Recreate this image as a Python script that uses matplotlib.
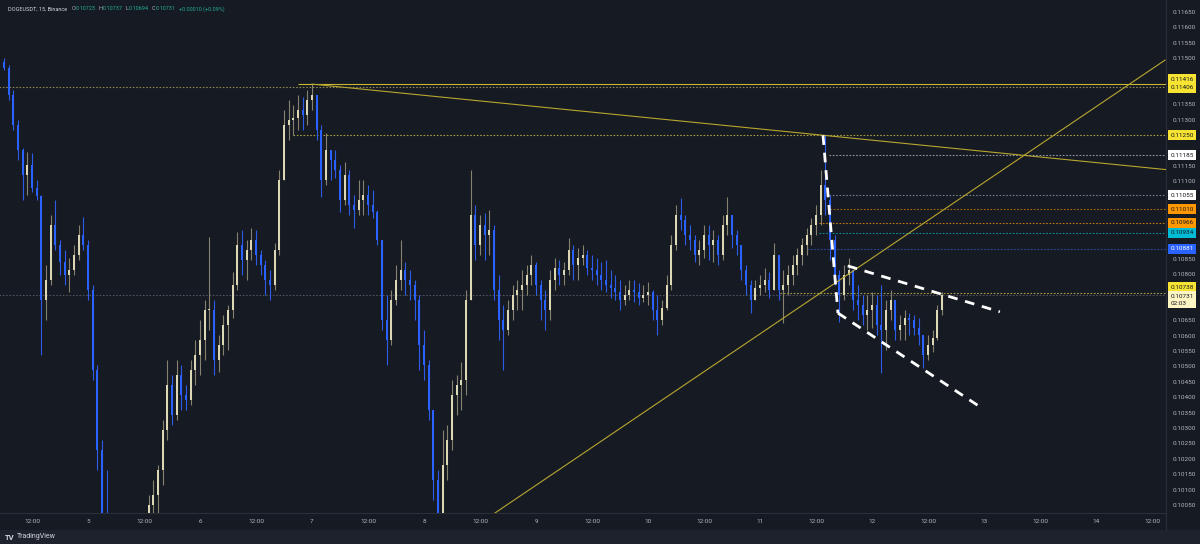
import numpy as np
import matplotlib.pyplot as plt
from matplotlib.patches import Rectangle
from matplotlib.lines import Line2D

plt.rcParams['font.family'] = ['Roboto', 'DejaVu Sans']

# DOGEUSDT, hourly candles; hour 0 = day 4, 00:00
hours = list(range(6, 208))
first_open = 0.11488
highs = [
    0.11501, 0.11478, 0.11397, 0.11300, 0.11209, 0.11196, 0.11193, 0.11105, 0.11056, 0.10829,
    0.10991, 0.11040, 0.10910, 0.10878, 0.10852, 0.10894, 0.10959, 0.10985, 0.10910, 0.10764,
    0.10505, 0.10261, 0.10164, 0.10002, 0.09937, 0.09904, 0.09872, 0.09921, 0.09969, 0.10002,
    0.10008, 0.10083, 0.10131, 0.10180, 0.10326, 0.10521, 0.10472, 0.10521, 0.10505, 0.10440,
    0.10521, 0.10586, 0.10651, 0.10715, 0.10920, 0.10715, 0.10602, 0.10667, 0.10699, 0.10806,
    0.10936, 0.10943, 0.10910, 0.10949, 0.10943, 0.10878, 0.10845, 0.10813, 0.10900, 0.11137,
    0.11332, 0.11365, 0.11348, 0.11381, 0.11374, 0.11397, 0.11416, 0.11381, 0.11283, 0.11257,
    0.11202, 0.11202, 0.11154, 0.11163, 0.11137, 0.11056, 0.11105, 0.11105, 0.11089, 0.11072,
    0.11008, 0.10910, 0.10732, 0.10748, 0.10829, 0.10910, 0.10839, 0.10813, 0.10780, 0.10732,
    0.10618, 0.10521, 0.10358, 0.10164, 0.10294, 0.10310, 0.10456, 0.10472, 0.10514, 0.10748,
    0.11137, 0.11024, 0.10991, 0.10998, 0.11008, 0.10959, 0.10797, 0.10699, 0.10715, 0.10764,
    0.10780, 0.10813, 0.10829, 0.10862, 0.10839, 0.10780, 0.10748, 0.10813, 0.10852, 0.10845,
    0.10839, 0.10917, 0.10894, 0.10884, 0.10894, 0.10878, 0.10862, 0.10852, 0.10839, 0.10845,
    0.10813, 0.10797, 0.10780, 0.10764, 0.10780, 0.10780, 0.10771, 0.10764, 0.10774, 0.10748,
    0.10732, 0.10715, 0.10797, 0.10926, 0.11024, 0.11046, 0.10991, 0.10959, 0.10926, 0.10910,
    0.10959, 0.10959, 0.10943, 0.10926, 0.10991, 0.11050, 0.10991, 0.10943, 0.10894, 0.10829,
    0.10780, 0.10780, 0.10797, 0.10819, 0.10806, 0.10900, 0.10862, 0.10813, 0.10829, 0.10862,
    0.10884, 0.10917, 0.10949, 0.10982, 0.11024, 0.11137, 0.11251, 0.11056, 0.10926, 0.10813,
    0.10829, 0.10852, 0.10813, 0.10764, 0.10732, 0.10732, 0.10741, 0.10732, 0.10764, 0.10715,
    0.10748, 0.10715, 0.10667, 0.10683, 0.10673, 0.10667, 0.10657, 0.10602, 0.10602, 0.10618,
    0.10699, 0.10741,
]
lows = [
    0.11462, 0.11365, 0.11267, 0.11170, 0.11040, 0.11056, 0.11066, 0.11040, 0.10537, 0.10651,
    0.10764, 0.10878, 0.10797, 0.10764, 0.10741, 0.10797, 0.10845, 0.10878, 0.10715, 0.10456,
    0.10164, 0.09969, 0.09872, 0.09807, 0.09742, 0.09710, 0.09677, 0.09742, 0.09774, 0.09807,
    0.09839, 0.09872, 0.09937, 0.10002, 0.10115, 0.10261, 0.10310, 0.10326, 0.10358, 0.10358,
    0.10375, 0.10440, 0.10472, 0.10521, 0.10618, 0.10472, 0.10482, 0.10537, 0.10553, 0.10657,
    0.10748, 0.10797, 0.10780, 0.10845, 0.10829, 0.10797, 0.10732, 0.10715, 0.10748, 0.10862,
    0.11105, 0.11235, 0.11251, 0.11267, 0.11267, 0.11283, 0.11332, 0.11235, 0.11050, 0.11089,
    0.11105, 0.11111, 0.11001, 0.11024, 0.10991, 0.10949, 0.10991, 0.10991, 0.10991, 0.10982,
    0.10894, 0.10618, 0.10505, 0.10570, 0.10699, 0.10748, 0.10732, 0.10715, 0.10651, 0.10488,
    0.10456, 0.10326, 0.10066, 0.09937, 0.10002, 0.10131, 0.10229, 0.10342, 0.10358, 0.10407,
    0.10715, 0.10845, 0.10862, 0.10845, 0.10862, 0.10715, 0.10586, 0.10488, 0.10602, 0.10651,
    0.10683, 0.10683, 0.10732, 0.10764, 0.10732, 0.10651, 0.10618, 0.10651, 0.10748, 0.10764,
    0.10764, 0.10797, 0.10780, 0.10780, 0.10829, 0.10797, 0.10780, 0.10764, 0.10748, 0.10741,
    0.10722, 0.10715, 0.10683, 0.10699, 0.10715, 0.10709, 0.10699, 0.10709, 0.10699, 0.10651,
    0.10602, 0.10634, 0.10683, 0.10748, 0.10878, 0.10943, 0.10894, 0.10878, 0.10839, 0.10829,
    0.10852, 0.10845, 0.10839, 0.10829, 0.10845, 0.10926, 0.10884, 0.10862, 0.10780, 0.10732,
    0.10673, 0.10715, 0.10732, 0.10741, 0.10722, 0.10748, 0.10715, 0.10641, 0.10732, 0.10764,
    0.10797, 0.10829, 0.10862, 0.10894, 0.10926, 0.10959, 0.10991, 0.10845, 0.10764, 0.10644,
    0.10715, 0.10764, 0.10683, 0.10651, 0.10634, 0.10618, 0.10625, 0.10602, 0.10479, 0.10553,
    0.10651, 0.10586, 0.10586, 0.10586, 0.10602, 0.10602, 0.10570, 0.10495, 0.10521, 0.10547,
    0.10586, 0.10667,
]
closes = [
    0.11468, 0.11381, 0.11283, 0.11202, 0.11121, 0.11154, 0.11079, 0.11053, 0.10715, 0.10780,
    0.10959, 0.10894, 0.10839, 0.10797, 0.10813, 0.10862, 0.10926, 0.10894, 0.10748, 0.10488,
    0.10229, 0.10002, 0.09904, 0.09839, 0.09839, 0.09774, 0.09807, 0.09872, 0.09904, 0.09937,
    0.09969, 0.10050, 0.10083, 0.10164, 0.10294, 0.10440, 0.10342, 0.10472, 0.10407, 0.10391,
    0.10488, 0.10537, 0.10586, 0.10683, 0.10683, 0.10521, 0.10570, 0.10634, 0.10683, 0.10764,
    0.10894, 0.10845, 0.10878, 0.10910, 0.10862, 0.10829, 0.10780, 0.10764, 0.10878, 0.11105,
    0.11283, 0.11300, 0.11306, 0.11332, 0.11316, 0.11365, 0.11381, 0.11267, 0.11105, 0.11202,
    0.11170, 0.11137, 0.11040, 0.11121, 0.11024, 0.11008, 0.11040, 0.11056, 0.11024, 0.11001,
    0.10910, 0.10651, 0.10586, 0.10715, 0.10780, 0.10813, 0.10780, 0.10764, 0.10715, 0.10570,
    0.10505, 0.10358, 0.10131, 0.10002, 0.10180, 0.10261, 0.10407, 0.10440, 0.10456, 0.10715,
    0.10991, 0.10894, 0.10959, 0.10926, 0.10943, 0.10748, 0.10651, 0.10618, 0.10683, 0.10732,
    0.10748, 0.10764, 0.10797, 0.10829, 0.10764, 0.10715, 0.10683, 0.10780, 0.10819, 0.10797,
    0.10813, 0.10878, 0.10829, 0.10852, 0.10862, 0.10819, 0.10813, 0.10797, 0.10780, 0.10764,
    0.10754, 0.10741, 0.10715, 0.10732, 0.10748, 0.10741, 0.10722, 0.10732, 0.10741, 0.10683,
    0.10651, 0.10690, 0.10764, 0.10894, 0.10991, 0.10975, 0.10926, 0.10910, 0.10862, 0.10878,
    0.10926, 0.10894, 0.10910, 0.10862, 0.10959, 0.10991, 0.10926, 0.10894, 0.10813, 0.10764,
    0.10715, 0.10754, 0.10764, 0.10780, 0.10748, 0.10862, 0.10748, 0.10764, 0.10797, 0.10829,
    0.10862, 0.10894, 0.10926, 0.10959, 0.10991, 0.11089, 0.11040, 0.10910, 0.10797, 0.10732,
    0.10797, 0.10813, 0.10715, 0.10699, 0.10667, 0.10683, 0.10699, 0.10634, 0.10618, 0.10683,
    0.10715, 0.10618, 0.10634, 0.10657, 0.10651, 0.10625, 0.10602, 0.10537, 0.10570, 0.10592,
    0.10683, 0.10731,
]

# horizontal levels: price, start hour, colour, style
levels = [
    (0.11406, 5.0, '#8a8450', 'dot'),
    (0.11416, 69.0, '#c9b634', 'solid'),
    (0.11250, 67.9, '#a89c3e', 'dot'),
    (0.11185, 182.8, '#9598a1', 'dot'),
    (0.11055, 182.8, '#787b86', 'dot'),
    (0.11010, 183.0, '#a8680a', 'dot'),
    (0.10966, 180.6, '#c27812', 'dot'),
    (0.10934, 180.6, '#0a8f9a', 'dot'),
    (0.10881, 178.1, '#2b4aa0', 'dot'),
    (0.10738, 172.3, '#a89c3e', 'dot'),
    (0.10731, 5.0, '#50535e', 'dot'),
]

# price-scale labels: text, price, box colour, text colour, vertical shift (pt)
axis_labels = [
    ('0.11416', 0.11416, '#f7e432', '#131722', 3.5),
    ('0.11406', 0.11406, '#f7e432', '#131722', -0.5),
    ('0.11250', 0.11250, '#f7e432', '#131722', 0),
    ('0.11185', 0.11185, '#ffffff', '#131722', 0),
    ('0.11055', 0.11055, '#ffffff', '#131722', 0),
    ('0.11010', 0.11010, '#ff9800', '#131722', 0),
    ('0.10966', 0.10966, '#ff9800', '#131722', 0),
    ('0.10934', 0.10934, '#00bcd4', '#131722', 0),
    ('0.10881', 0.10881, '#2962ff', '#ffffff', 0),
    ('0.10738', 0.10738, '#f7e432', '#131722', 4.2),
    ('0.10731\n02:03', 0.10731, '#fdf6c3', '#131722', -3.2),
]

# trend lines (anchor points)
trend_down = ([72.0, 181.5], [0.11416, 0.11250])
trend_up = ([111.2, 254.8], [0.10024, 0.11494])
# white dashed flag drawing
flag_pole = ([181.5, 184.7], [0.11250, 0.10673])
flag_top = ([186.8, 219.4], [0.10826, 0.10677])
flag_bottom = ([184.7, 215.8], [0.10673, 0.10362])

price_ticks = [0.10050, 0.10100, 0.10150, 0.10200, 0.10250, 0.10300, 0.10350, 0.10400,
               0.10450, 0.10500, 0.10550, 0.10600, 0.10650, 0.10700, 0.10750, 0.10800,
               0.10850, 0.10900, 0.10950, 0.11000, 0.11050, 0.11100, 0.11150, 0.11200,
               0.11250, 0.11300, 0.11350, 0.11400, 0.11450, 0.11500, 0.11550, 0.11600,
               0.11650]
# scale values that sit under the coloured price boxes
hidden_ticks = [0.10700, 0.10750, 0.10900, 0.10950, 0.11000, 0.11050, 0.11200, 0.11250,
                0.11400, 0.11450]
time_ticks = [12, 24, 36, 48, 60, 72, 84, 96, 108, 120, 132, 144, 156, 168, 180, 192,
              204, 216, 228, 240, 252]
time_labels = ['12:00', '5', '12:00', '6', '12:00', '7', '12:00', '8', '12:00', '9', '12:00',
               '10', '12:00', '11', '12:00', '12', '12:00', '13', '12:00', '14', '12:00']

header = [('DOGEUSDT, 15, Binance', '#d1d4dc', 4), ('O', '#b2b5be', 0.3),
          ('0.10723', '#22ab94', 3), ('H', '#b2b5be', 0.3), ('0.10737', '#22ab94', 3),
          ('L', '#b2b5be', 0.3), ('0.10694', '#22ab94', 3), ('C', '#b2b5be', 0.3),
          ('0.10731', '#22ab94', 3.5), ('+0.00010 (+0.09%)', '#22ab94', 0)]

bg = '#161a22'
grid_c = '#2a2e39'
txt_c = '#b2b5be'
x_right = 255.0

fig = plt.figure(figsize=(12, 5.44), dpi=100, facecolor=bg)
ax = fig.add_axes([0, 31 / 544, 1166 / 1200, 513 / 544])
ax.set_facecolor(bg)
ax.set_xlim(5.14, x_right)
ax.set_ylim(0.10024, 0.11689)

# candles
h = np.array(hours, dtype=float)
c = np.array(closes)
o = np.array([first_open] + closes[:-1])
hi = np.maximum(np.array(highs), np.maximum(o, c))
lo = np.minimum(np.array(lows), np.minimum(o, c))
up = c >= o
body_col = np.where(up, '#dcd8b6', '#2962ff')
wick_col = np.where(up, '#858270', '#2d5ce8')
ax.vlines(h, lo, hi, colors=wick_col, lw=0.8, zorder=3)
ax.bar(h, np.maximum(np.abs(c - o), 0.00003), bottom=np.minimum(o, c), width=0.45,
       color=body_col, lw=0, zorder=4)

# levels
for price, start, col, style in levels:
    ls = '-' if style == 'solid' else (0, (1.5, 1.5))
    ax.hlines(price, start, x_right, colors=col, lw=0.8, linestyles=ls, zorder=2)

# trend lines, the falling one drawn as a ray to the right edge
xd, yd = trend_down
slope = (yd[1] - yd[0]) / (xd[1] - xd[0])
ax.plot([xd[0], x_right], [yd[0], yd[0] + slope * (x_right - xd[0])],
        color='#b8a630', lw=0.8, zorder=5)
ax.plot(trend_up[0], trend_up[1], color='#b8a630', lw=0.8, zorder=5)

for seg in (flag_pole, flag_top, flag_bottom):
    ax.plot(seg[0], seg[1], color='white', lw=2.0, ls=(0, (3.5, 2.8)),
            solid_capstyle='butt', zorder=6)

# axes styling
ax.yaxis.tick_right()
ax.set_yticks(price_ticks)
ax.set_yticklabels(['' if any(abs(p - q) < 1e-7 for q in hidden_ticks) else f'{p:.5f}'
                    for p in price_ticks])
ax.tick_params(axis='y', length=0, pad=5, labelsize=4.6, labelcolor=txt_c)
ax.set_xticks(time_ticks)
ax.set_xticklabels(time_labels)
ax.tick_params(axis='x', length=0, pad=4.5, labelsize=4.6, labelcolor=txt_c)
for s in ['top', 'left']:
    ax.spines[s].set_visible(False)
for s in ['right', 'bottom']:
    ax.spines[s].set_color(grid_c)
    ax.spines[s].set_linewidth(0.8)

for text, price, fc, tc, dy in axis_labels:
    ax.annotate(text, xy=(1, price), xycoords=('axes fraction', 'data'),
                xytext=(3.2, dy), textcoords='offset points', ha='left', va='center',
                fontsize=4.6, color=tc, linespacing=1.5, zorder=10,
                bbox=dict(boxstyle='square,pad=0.4', fc=fc, ec='none'),
                annotation_clip=False)

# frame pieces around the chart
fig.add_artist(Rectangle((0, 0), 1, 14 / 544, transform=fig.transFigure,
                         fc='#1e222d', ec='none'))
fig.add_artist(Line2D([1166 / 1200, 1166 / 1200], [14 / 544, 31 / 544],
                      transform=fig.transFigure, color=grid_c, lw=0.8))
fig.text(5 / 1200, 7 / 544, 'TV', fontsize=5.5, fontweight='bold', color='#d1d4dc',
         va='center')
fig.text(17 / 1200, 7 / 544, 'TradingView', fontsize=5, color='#d1d4dc', va='center')

# header line, pieces placed one after another
fig.canvas.draw()
renderer = fig.canvas.get_renderer()
hx = 8
hy = 1 - 9 / 544
for s, col, gap in header:
    t = fig.text(hx / 1200, hy, s, fontsize=4.0, color=col, va='center')
    hx += t.get_window_extent(renderer).width + gap

fig.savefig('out.png', dpi=100, facecolor=bg)
